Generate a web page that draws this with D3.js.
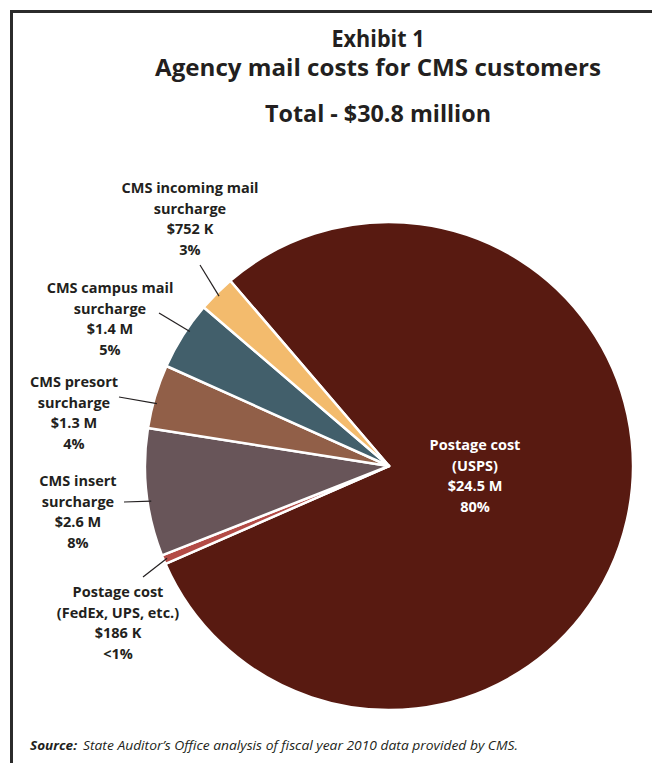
<!DOCTYPE html>
<html>
<head>
<meta charset="utf-8">
<script src="https://cdn.jsdelivr.net/npm/d3@7"></script>
<style>
  html, body { margin: 0; padding: 0; background: #fff; }
  svg { display: block; font-family: "Open Sans", "Noto Sans", sans-serif; }
</style>
</head>
<body>
<div id="chart"></div>
<script>
// slices, clockwise starting from the big USPS wedge
const categories = ['Postage cost (USPS)', 'Postage cost (FedEx, UPS, etc.)', 'CMS insert surcharge',
  'CMS presort surcharge', 'CMS campus mail surcharge', 'CMS incoming mail surcharge']
const values = [24.5, 0.186, 2.6, 1.3, 1.4, 0.752] // $ millions
const amountLabels = ['$24.5 M', '$186 K', '$2.6 M', '$1.3 M', '$1.4 M', '$752 K']
const pctLabels = ['80%', '<1%', '8%', '4%', '5%', '3%']
const nameLines = [
  ['Postage cost', '(USPS)'],
  ['Postage cost', '(FedEx, UPS, etc.)'],
  ['CMS insert', 'surcharge'],
  ['CMS presort', 'surcharge'],
  ['CMS campus mail', 'surcharge'],
  ['CMS incoming mail', 'surcharge']
]
const colors = ['#581a11', '#b34b46', '#685559', '#915f48', '#425f6b', '#f3bb6d']

const width = 652
const height = 763
const cx = 389
const cy = 466
const radius = 244

// label layout: text block centre + where the leader starts, t = spot along the slice
const labelLayout = [
  { x: 475, y: 445, inside: true },
  { x: 118, y: 592, lx: 143, ly: 577, t: 0.5 },
  { x: 78, y: 481, lx: 124, ly: 502, t: 0.43 },
  { x: 74, y: 382, lx: 119, ly: 397, t: 0.4 },
  { x: 110, y: 288, lx: 159, ly: 313, t: 0.6 },
  { x: 190, y: 188, lx: 200, ly: 265, t: 0.5 }
]

const svg = d3.select('#chart').append('svg')
  .attr('width', width)
  .attr('height', height)

// frame (left + top rule)
svg.append('path')
  .attr('d', 'M11.5,' + height + 'V11.5H' + width)
  .attr('fill', 'none')
  .attr('stroke', '#2b2b2b')
  .attr('stroke-width', 3)

const titles = [
  { text: 'Exhibit 1', y: 47, len: 93 },
  { text: 'Agency mail costs for CMS customers', y: 76, len: 446 },
  { text: 'Total - $30.8 million', y: 122, len: 226 }
]
svg.selectAll('text.title')
  .data(titles)
  .enter()
  .append('text')
  .attr('class', 'title')
  .attr('x', 378)
  .attr('y', d => d.y)
  .attr('text-anchor', 'middle')
  .attr('font-size', 23)
  .attr('font-weight', 700)
  .attr('fill', '#231f20')
  .attr('textLength', d => d.len)
  .attr('lengthAdjust', 'spacingAndGlyphs')
  .text(d => d.text)

const start = 319.4 * Math.PI / 180
const pie = d3.pie()
  .sort(null)
  .value(d => d)
  .startAngle(start)
  .endAngle(start + 2 * Math.PI)

const arcs = pie(values)
const arc = d3.arc().innerRadius(0).outerRadius(radius)

const g = svg.append('g')
  .attr('transform', 'translate(' + [cx, cy] + ')')

g.selectAll('path.slice')
  .data(arcs)
  .enter()
  .append('path')
  .attr('class', 'slice')
  .attr('d', arc)
  .attr('fill', (d, i) => colors[i])
  .attr('stroke', '#fff')
  .attr('stroke-width', 2.5)
  .attr('stroke-linejoin', 'round')

// leader lines
arcs.forEach((d, i) => {
  const lay = labelLayout[i]
  if (lay.inside) return
  const a = d.startAngle + lay.t * (d.endAngle - d.startAngle)
  const px = cx + radius * 0.985 * Math.sin(a)
  const py = cy - radius * 0.985 * Math.cos(a)
  svg.append('line')
    .attr('x1', lay.lx)
    .attr('y1', lay.ly)
    .attr('x2', px)
    .attr('y2', py)
    .attr('stroke', '#231f20')
    .attr('stroke-width', 1.2)
})

// labels
const lineH = 20.7
categories.forEach((c, i) => {
  const lay = labelLayout[i]
  const lines = nameLines[i].concat([amountLabels[i], pctLabels[i]])
  const t = svg.append('text')
    .attr('text-anchor', 'middle')
    .attr('font-size', 14.5)
    .attr('font-weight', 700)
    .attr('fill', lay.inside ? '#fff' : '#231f20')
  lines.forEach((l, j) => {
    t.append('tspan')
      .attr('x', lay.x)
      .attr('y', lay.y + j * lineH + 5)
      .text(l)
  })
})

// source note
const src = svg.append('g')
  .attr('font-size', 13)
  .attr('font-style', 'italic')
  .attr('fill', '#231f20')
src.append('text')
  .attr('x', 30)
  .attr('y', 750)
  .attr('font-weight', 700)
  .attr('textLength', 47)
  .attr('lengthAdjust', 'spacingAndGlyphs')
  .text('Source:')
src.append('text')
  .attr('x', 83)
  .attr('y', 750)
  .attr('textLength', 435)
  .attr('lengthAdjust', 'spacingAndGlyphs')
  .text('State Auditor\u2019s Office analysis of fiscal year 2010 data provided by CMS.')
</script>
</body>
</html>
